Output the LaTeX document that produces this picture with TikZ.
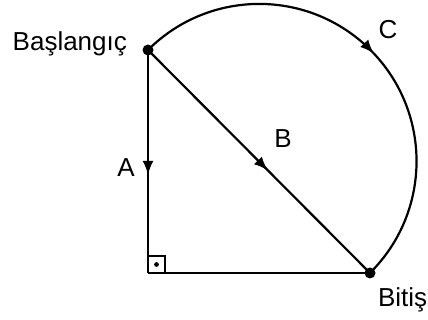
\documentclass[tikz,border=0pt]{standalone}
\usepackage{fontspec}
\setmainfont{Liberation Sans}
\usetikzlibrary{arrows.meta, positioning, calc, decorations.markings}

\begin{document}
\begin{tikzpicture}[x=0.5pt, y=0.5pt, line width=1.1pt,
    dot/.style={circle, fill, inner sep=0pt, minimum size=5.5pt},
    lbl/.style={inner sep=0pt, font=\fontsize{13}{15}\selectfont},
    midarrow/.style={postaction={decorate}, decoration={markings,
        mark=at position #1 with {\arrow{Latex[length=7pt,width=5.5pt]}}}}]
        \useasboundingbox (0,0) rectangle (428,320);
        % Points
        \node[dot] (start) at (148,270) {};
        \node[dot] (end) at (370,47) {};
        \coordinate (corner) at (148,47);
        % Paths
        \draw[midarrow=0.56] (start.center) -- (corner);
        \draw (corner) -- (end.center);
        \draw[midarrow=0.54] (start.center) -- (end.center);
        \draw[midarrow=0.51] (start.center) arc[start angle=135, end angle=-45, radius=78.65pt];
        % Right angle
        \draw[line width=0.7pt] (corner) ++(0,17) -| ++(17,-17);
        \fill ($(corner)+(8.5,8.5)$) circle (1.2pt);
        % Labels
        \node[lbl, anchor=base east] (startlbl) at (128,269) {Başlangıç};
        \node[lbl] (Albl) at (126,152) {A};
        \node[lbl] (Blbl) at (283,181) {B};
        \node[lbl] (Clbl) at (388,290) {C};
        \node[lbl, anchor=base west] (endlbl) at (377,13) {Bitiş};
\end{tikzpicture}
\end{document}
